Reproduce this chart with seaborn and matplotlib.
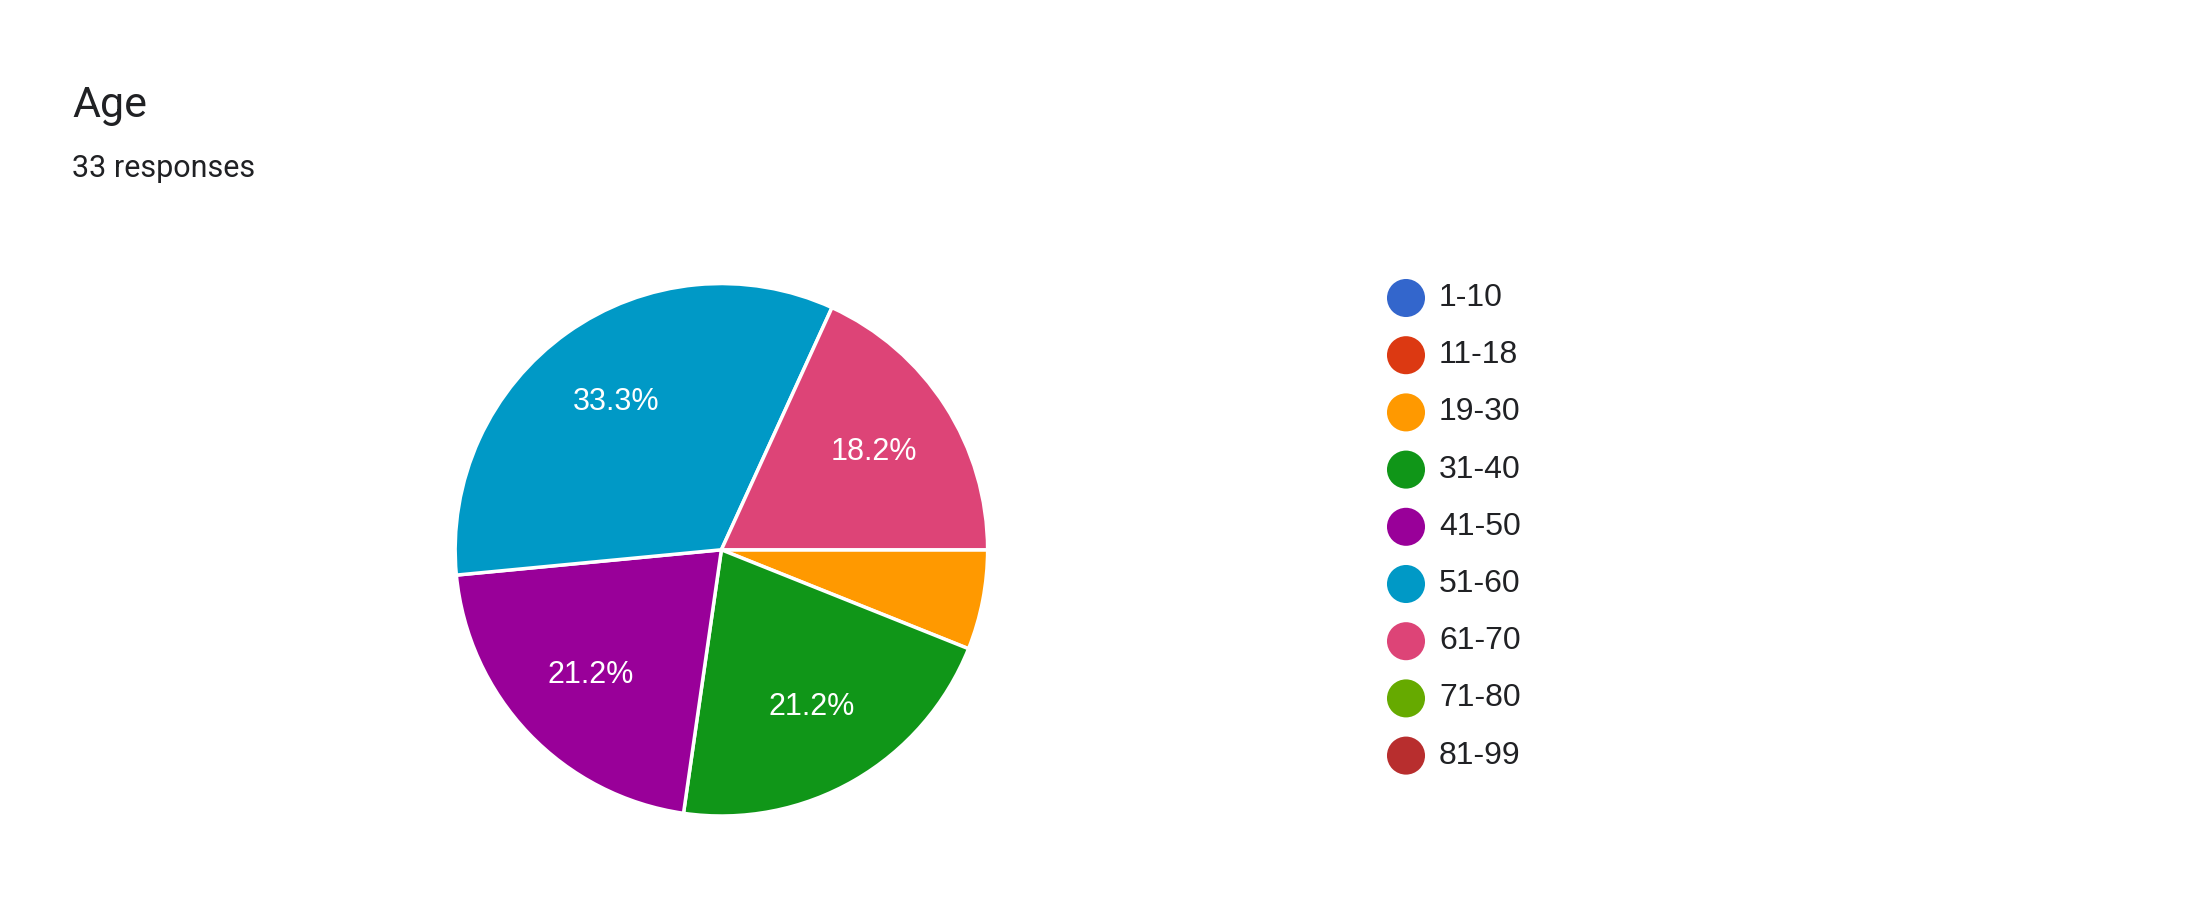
import matplotlib.pyplot as plt
import seaborn as sns

sns.set_theme(style="white")
plt.rcParams["font.family"] = ["Roboto", "DejaVu Sans"]

# data
categories = ["1-10", "11-18", "19-30", "31-40", "41-50", "51-60", "61-70", "71-80", "81-99"]
counts = [0, 0, 2, 7, 7, 11, 6, 0, 0]
colors = ["#3366cc", "#dc3912", "#ff9900", "#109618", "#990099",
          "#0099c6", "#dd4477", "#66aa00", "#b82e2e"]
title = "Age"
subtitle = "33 responses"

fig = plt.figure(figsize=(21.96, 9.24), dpi=100)
fig.text(0.033, 0.886, title, fontsize=31, color="#202124", va="center")
fig.text(0.033, 0.818, subtitle, fontsize=22, color="#202124", va="center")

# pie (non-zero slices only)
vals = [c for c in counts if c > 0]
cols = [col for c, col in zip(counts, colors) if c > 0]
ax = fig.add_axes([0.206, 0.114, 0.245, 0.582])
ax.pie(vals, colors=cols, startangle=0, counterclock=False,
       autopct=lambda p: f"{p:.1f}%" if p > 10 else "",
       pctdistance=0.68,
       textprops={"color": "white", "fontsize": 22, "family": ["Liberation Sans", "DejaVu Sans"]},
       wedgeprops={"edgecolor": "white", "linewidth": 2.5})
ax.set_xlim(-1.01, 1.01)
ax.set_ylim(-1.01, 1.01)
ax.set_aspect("equal")

# legend
lax = fig.add_axes([0.6, 0.1, 0.3, 0.8])
lax.set_xlim(0, 1)
lax.set_ylim(0, 1)
lax.axis("off")
n = len(categories)
ys = [1 - ((298 + i * 57.2) - 924 * 0.1) / (924 * 0.8) for i in range(n)]
xc = (1406 - 0.6 * 2196) / (0.3 * 2196)
xt = (1439 - 0.6 * 2196) / (0.3 * 2196)
lax.scatter([xc] * n, ys, s=750, c=colors, linewidths=0)
for y, lab in zip(ys, categories):
    lax.text(xt, y, lab, fontsize=23, color="#202124", va="center",
             family=["Liberation Sans", "DejaVu Sans"])

fig.savefig("out.png", dpi=100)
